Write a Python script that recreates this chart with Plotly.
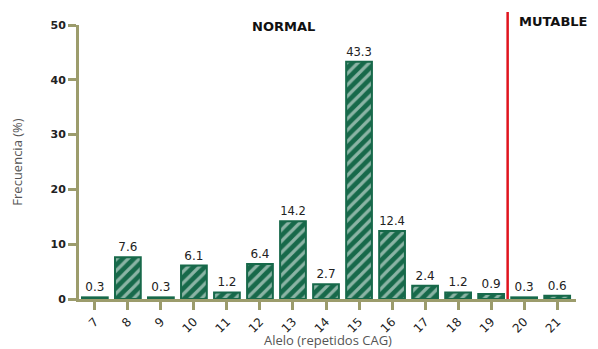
import plotly.graph_objects as go

alleles = [7, 8, 9, 10, 11, 12, 13, 14, 15, 16, 17, 18, 19, 20, 21]
freq = [0.3, 7.6, 0.3, 6.1, 1.2, 6.4, 14.2, 2.7, 43.3, 12.4, 2.4, 1.2, 0.9, 0.3, 0.6]
y_ticks = [0, 10, 20, 30, 40, 50]
labels = [f"{v:.1f}" for v in freq]

green = "#17694a"
olive = "#9c9c6c"

fig = go.Figure()
fig.add_trace(go.Bar(
    x=alleles, y=freq, width=0.78,
    marker=dict(color=green, line=dict(color=green, width=2),
                pattern=dict(shape="/", fgcolor="white", bgcolor=green, size=8, solidity=0.4)),
    text=labels, textposition="outside", cliponaxis=False,
    textfont=dict(family="DejaVu Sans", size=12, color="#222"),
))

fig.update_layout(
    width=598, height=349,
    margin=dict(l=71, r=30, t=17, b=58),
    plot_bgcolor="white", paper_bgcolor="white",
    showlegend=False,
    bargap=0.2,
)
fig.update_xaxes(
    range=[6.52, 21.57], tickvals=alleles, ticktext=[str(a) for a in alleles],
    tickangle=-45, showline=True, linecolor=olive, linewidth=3,
    ticks="outside", tickcolor=olive, tickwidth=3, ticklen=8,
    tickfont=dict(family="DejaVu Sans", size=12, color="#222"),
    showgrid=False, zeroline=False, automargin=False,
)
fig.update_yaxes(
    range=[0, 50], tickvals=y_ticks, showline=True, linecolor=olive, linewidth=3,
    ticks="outside", tickcolor=olive, tickwidth=3, ticklen=8,
    tickfont=dict(family="DejaVu Sans", size=11, color="#222", weight="bold"),
    showgrid=False, zeroline=False, automargin=False,
    title=dict(text="Frecuencia (%)", font=dict(family="Open Sans", size=13, color="#555"), standoff=26),
)

fig.add_annotation(x=0.5, y=-0.188, xref="paper", yref="paper", text="Alelo (repetidos CAG)",
                   showarrow=False, yanchor="bottom",
                   font=dict(family="Open Sans", size=13, color="#555"))
fig.add_shape(type="line", xref="x", yref="paper", x0=19.5, x1=19.5, y0=0, y1=1.047,
              line=dict(color="#e0141e", width=2.5))
fig.add_annotation(x=12.7, y=0.993, xref="x", yref="paper", text="<b>NORMAL</b>", showarrow=False,
                   font=dict(family="DejaVu Sans", size=13, color="#111"), yanchor="middle")
fig.add_annotation(x=20.9, y=1.011, xref="x", yref="paper", text="<b>MUTABLE</b>", showarrow=False,
                   font=dict(family="DejaVu Sans", size=13, color="#111"), yanchor="middle")

fig.write_html("out.html")
